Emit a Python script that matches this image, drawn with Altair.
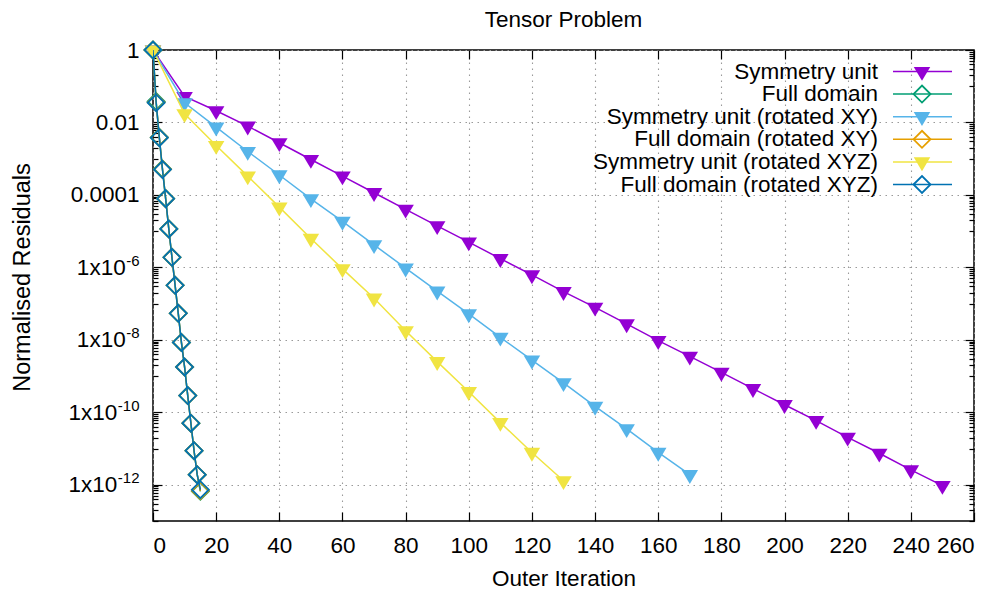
import altair as alt
import pandas as pd

FONT = "Liberation Sans"

# ---------------- data ----------------
series_names = [
    "Symmetry unit",
    "Full domain",
    "Symmetry unit (rotated XY)",
    "Full domain (rotated XY)",
    "Symmetry unit (rotated XYZ)",
    "Full domain (rotated XYZ)",
]
series_colors = ["#9400d3", "#009e73", "#56b4e9", "#e69f00", "#f0e442", "#0072b2"]
series_kind = ["tri", "dia", "tri", "dia", "tri", "dia"]

sym_iter = [0, 10, 20, 30, 40, 50, 60, 70, 80, 90, 100, 110, 120, 130, 140, 150,
            160, 170, 180, 190, 200, 210, 220, 230, 240, 250]
sym_vals = [1.0, 5.2e-2, 2.1e-2, 7.9e-3, 2.75e-3, 9.5e-4, 3.3e-4, 1.15e-4, 4.0e-5,
            1.4e-5, 5.0e-6, 1.74e-6, 6.2e-7, 2.14e-7, 7.9e-8, 2.75e-8, 9.5e-9,
            3.5e-9, 1.26e-9, 4.5e-10, 1.62e-10, 5.9e-11, 2.04e-11, 7.4e-12,
            2.57e-12, 9.5e-13]

symxy_iter = [0, 10, 20, 30, 40, 50, 60, 70, 80, 90, 100, 110, 120, 130, 140, 150,
              160, 170]
symxy_vals = [1.0, 3.5e-2, 7.4e-3, 1.58e-3, 3.55e-4, 7.8e-5, 1.86e-5, 4.2e-6,
              9.5e-7, 2.2e-7, 5.2e-8, 1.17e-8, 2.75e-9, 6.5e-10, 1.45e-10,
              3.5e-11, 7.8e-12, 1.9e-12]

symxyz_iter = [0, 10, 20, 30, 40, 50, 60, 70, 80, 90, 100, 110, 120, 130]
symxyz_vals = [1.0, 1.74e-2, 2.3e-3, 3.3e-4, 4.6e-5, 6.3e-6, 9.1e-7, 1.41e-7,
               1.78e-8, 2.5e-9, 3.7e-10, 5.2e-11, 7.8e-12, 1.29e-12]

full_iter = [0, 1, 2, 3, 4, 5, 6, 7, 8, 9, 10, 11, 12, 13, 14, 15]
full_vals = [1.0, 3.8e-2, 3.9e-3, 5.2e-4, 8.0e-5, 1.16e-5, 1.9e-6, 3.2e-7,
             5.4e-8, 8.5e-9, 1.78e-9, 2.9e-10, 5.0e-11, 8.7e-12, 1.9e-12, 6.6e-13]
fullxy_vals = [1.0, 3.6e-2, 3.85e-3, 5.1e-4, 7.9e-5, 1.15e-5, 1.9e-6, 3.2e-7,
               5.4e-8, 8.5e-9, 1.78e-9, 2.9e-10, 5.0e-11, 8.7e-12, 1.9e-12, 6.8e-13]
fullxyz_vals = [1.0, 3.5e-2, 3.8e-3, 5.0e-4, 7.9e-5, 1.15e-5, 1.9e-6, 3.2e-7,
                5.4e-8, 8.5e-9, 1.78e-9, 2.9e-10, 5.0e-11, 8.7e-12, 1.9e-12, 7.3e-13]

x_tick_values = [0, 20, 40, 60, 80, 100, 120, 140, 160, 180, 200, 220, 240, 260]
# y tick labels: plain ones, and "1x10" with a raised exponent
y_plain_exponents = [0, -2, -4]
y_plain_labels = ["1", "0.01", "0.0001"]
y_sci_exponents = [-6, -8, -10, -12]
y_sci_mantissa = "1x10"

# ---------------- table ----------------
series_x = [sym_iter, full_iter, symxy_iter, full_iter, symxyz_iter, full_iter]
series_y = [sym_vals, full_vals, symxy_vals, fullxy_vals, symxyz_vals, fullxyz_vals]
rows = []
for name, xs_, ys_ in zip(series_names, series_x, series_y):
    for a, b in zip(xs_, ys_):
        rows.append({"series": name, "iter": a, "value": b})
df = pd.DataFrame(rows)

TRI = "M-1,-0.56L1,-0.56L0,1.12Z"
TRI_SIZE = 272
DIA_SIZE = 289
FS = 22.5
SUP_FS = 15

xs = alt.Scale(domain=[0, 260], nice=False, zero=False)
ys = alt.Scale(type="log", domain=[1e-13, 1], nice=False)
cs = alt.Scale(domain=series_names, range=series_colors)

layers = []

# ---------------- axis layers ----------------
dummy = pd.DataFrame({"x": [0], "value": [1.0]})
all_exps = y_plain_exponents + y_sci_exponents
y_major = [10.0 ** e for e in all_exps]
y_minor = [m * 10.0 ** (e - 1) for e in all_exps for m in range(1, 10)]


def axis_layer(xaxis, yaxis):
    return alt.Chart(dummy).mark_point(opacity=0).encode(
        x=alt.X("x:Q", scale=xs, axis=xaxis),
        y=alt.Y("value:Q", scale=ys, axis=yaxis),
    )


def expr_map(exps, labels):
    s = ""
    for e, lab in zip(exps, labels):
        s += "abs(log(datum.value)/LN10 - (%d)) < 0.01 ? '%s' : " % (e, lab)
    return s + "''"


grid_kw = dict(grid=True, gridColor="#9a9a9a", gridDash=[1.5, 4.5], gridWidth=1.1)
lab_kw = dict(labelFont=FONT, labelColor="black", titleFont=FONT, titleColor="black",
              titleFontWeight="normal", domain=False, ticks=False)

# x axis with labels, title and grid
layers.append(axis_layer(
    alt.Axis(orient="bottom", values=x_tick_values, format="d", labelFontSize=FS,
             labelPadding=13, title="Outer Iteration", titleFontSize=FS,
             titleX=410.5, titleY=57, titleBaseline="middle", titleAlign="center",
             **grid_kw, **lab_kw),
    alt.Axis(orient="left", values=y_major, labels=False, title="Normalised Residuals",
             titleFontSize=23.5, titleX=-131, titleY=227, titleAngle=270,
             titleBaseline="middle", titleAlign="center", **grid_kw, **lab_kw),
))
# y labels: plain
layers.append(axis_layer(None, alt.Axis(
    orient="left", values=[10.0 ** e for e in y_plain_exponents],
    labelExpr=expr_map(y_plain_exponents, y_plain_labels), labelFontSize=FS,
    labelPadding=14, labelBaseline="middle", grid=False, title=None, **lab_kw)))
# y labels: exponents (raised, small)
layers.append(axis_layer(None, alt.Axis(
    orient="left", values=[10.0 ** e for e in y_sci_exponents],
    labelExpr=expr_map(y_sci_exponents, [str(e) for e in y_sci_exponents]),
    labelFontSize=SUP_FS, labelPadding=14, labelBaseline="middle", labelOffset=-7,
    labelFlush=False, grid=False, title=None, **lab_kw)))
# y labels: mantissa "1x10", shifted left by the exponent width
for group in ([-6, -8], [-10, -12]):
    sup_w = SUP_FS * (0.333 + 0.556 * len(str(abs(group[0]))))
    layers.append(axis_layer(None, alt.Axis(
        orient="left", values=[10.0 ** e for e in group],
        labelExpr="'%s'" % y_sci_mantissa, labelFontSize=FS,
        labelPadding=14 + sup_w + 0.5, labelBaseline="middle",
        grid=False, title=None, **lab_kw)))

tick_kw = dict(labels=False, domain=False, grid=False, title=None, tickColor="black",
               tickWidth=1.2)
# inward major x ticks bottom / top
layers.append(axis_layer(alt.Axis(orient="bottom", values=x_tick_values, offset=-9,
                                  tickSize=9, **tick_kw), None))
layers.append(axis_layer(alt.Axis(orient="top", values=x_tick_values, offset=-9,
                                  tickSize=9, **tick_kw), None))
# inward y ticks left / right (major + minor)
for side in ["left", "right"]:
    layers.append(axis_layer(None, alt.Axis(orient=side, values=y_major, offset=-9,
                                            tickSize=9, **tick_kw)))
    layers.append(axis_layer(None, alt.Axis(orient=side, values=y_minor, offset=-5,
                                            tickSize=5, **tick_kw)))

# ---------------- data layers ----------------
for name, kind in zip(series_names, series_kind):
    d = df[df["series"] == name]
    base = alt.Chart(d).encode(
        x=alt.X("iter:Q", scale=xs, axis=None),
        y=alt.Y("value:Q", scale=ys, axis=None),
        color=alt.Color("series:N", scale=cs, legend=None),
    )
    line = base.mark_line(strokeWidth=1.5, clip=True)
    if kind == "tri":
        pts = base.mark_point(shape=TRI, size=TRI_SIZE, filled=True, opacity=1)
    else:
        pts = base.mark_point(shape="diamond", size=DIA_SIZE, filled=False,
                              strokeWidth=1.8, opacity=1)
    layers.append(line)
    layers.append(pts)

# ---------------- key (top right, gnuplot style) ----------------
leg = pd.DataFrame({"series": series_names, "kind": series_kind,
                    "idx": list(range(len(series_names)))})
leg_pos = alt.Chart(leg).transform_calculate(ly="21.5 + datum.idx * 22.6")
leg_y = alt.Y("ly:Q", scale=None, axis=None)
leg_c = alt.Color("series:N", scale=cs, legend=None)
layers.append(leg_pos.mark_text(align="right", baseline="middle", font=FONT,
                                fontSize=FS).encode(
    y=leg_y, x=alt.value(725), text="series:N", color=alt.value("black")))
layers.append(leg_pos.mark_rule(strokeWidth=1.5).encode(
    y=leg_y, color=leg_c, x=alt.value(740), x2=alt.value(799)))
layers.append(leg_pos.transform_filter("datum.kind == 'tri'").mark_point(
    shape=TRI, size=TRI_SIZE, filled=True, opacity=1).encode(
    y=leg_y, color=leg_c, x=alt.value(769)))
layers.append(leg_pos.transform_filter("datum.kind == 'dia'").mark_point(
    shape="diamond", size=DIA_SIZE, filled=False, strokeWidth=1.8, opacity=1).encode(
    y=leg_y, color=leg_c, x=alt.value(769)))

chart = alt.layer(*layers).resolve_axis(x="independent", y="independent").properties(
    width=821,
    height=471,
    title=alt.TitleParams("Tensor Problem", font=FONT, fontSize=FS, fontWeight="normal",
                          color="black", anchor="middle", offset=6),
    padding={"left": 145, "top": 42, "right": 24, "bottom": 75},
    autosize=alt.AutoSizeParams(type="none"),
    background="white",
).configure_view(stroke="black", strokeWidth=1.5)

chart.save("out.html", embed_options={"renderer": "svg", "actions": False})
